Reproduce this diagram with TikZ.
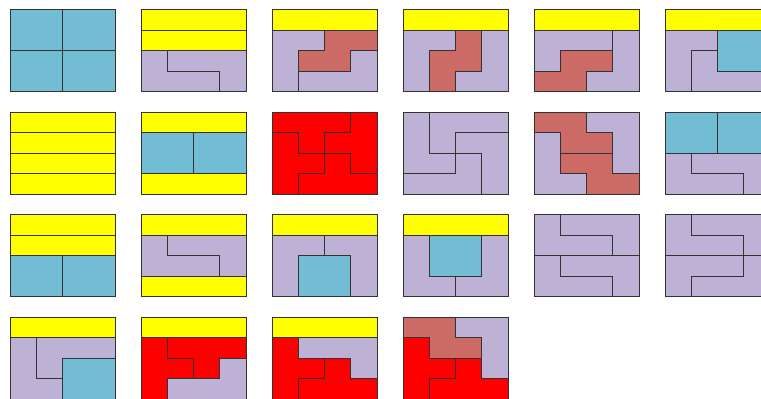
\documentclass[tikz,border=0pt]{standalone}
\usepackage{tikz}
\usetikzlibrary{calc}

\definecolor{iyellow}{HTML}{FFFF00}
\definecolor{oblue}{HTML}{72BDD3}
\definecolor{lpurple}{HTML}{BDB1D5}
\definecolor{zsalmon}{HTML}{CC6B66}
\definecolor{tred}{HTML}{FF0000}
\definecolor{edgegray}{HTML}{333333}

\tikzset{
    piece/.style={draw=edgegray, line width=0.85pt, line join=miter},
    ipiece/.style={piece, fill=iyellow},
    opiece/.style={piece, fill=oblue},
    lpiece/.style={piece, fill=lpurple},
    zpiece/.style={piece, fill=zsalmon},
    tpiece/.style={piece, fill=tred},
    tile/.style 2 args={shift={({10+131*#1},{10+102.4*#2})}, xscale=26.25, yscale=20.5}
}

% helpers in cell units (x right, y down)
\newcommand{\ibar}[1]{\draw[ipiece] (0,#1) rectangle (4,#1+1);}
\newcommand{\obox}[2]{\draw[opiece] (#1,#2) rectangle (#1+2,#2+2);}
\newcommand{\lpair}[1]{%
    \draw[lpiece] (0,#1) -- (1,#1) -- (1,#1+1) -- (3,#1+1) -- (3,#1+2) -- (0,#1+2) -- cycle;
    \draw[lpiece] (1,#1) -- (4,#1) -- (4,#1+2) -- (3,#1+2) -- (3,#1+1) -- (1,#1+1) -- cycle;}

\begin{document}
\begin{tikzpicture}[x=0.03cm, y=-0.03cm]
    \clip (0,0) rectangle (761,399);
    \fill[white] (0,0) rectangle (761,399);

    % Row 1
    \begin{scope}[tile={0}{0}]
        \obox{0}{0} \obox{2}{0} \obox{0}{2} \obox{2}{2}
    \end{scope}
    \begin{scope}[tile={1}{0}]
        \ibar{0} \ibar{1} \lpair{2}
    \end{scope}
    \begin{scope}[tile={2}{0}]
        \ibar{0}
        \draw[zpiece] (2,1) -- (4,1) -- (4,2) -- (3,2) -- (3,3) -- (1,3) -- (1,2) -- (2,2) -- cycle;
        \draw[lpiece] (0,1) -- (2,1) -- (2,2) -- (1,2) -- (1,4) -- (0,4) -- cycle;
        \draw[lpiece] (3,2) -- (4,2) -- (4,4) -- (1,4) -- (1,3) -- (3,3) -- cycle;
    \end{scope}
    \begin{scope}[tile={3}{0}]
        \ibar{0}
        \draw[zpiece] (2,1) -- (3,1) -- (3,3) -- (2,3) -- (2,4) -- (1,4) -- (1,2) -- (2,2) -- cycle;
        \draw[lpiece] (0,1) -- (2,1) -- (2,2) -- (1,2) -- (1,4) -- (0,4) -- cycle;
        \draw[lpiece] (3,1) -- (4,1) -- (4,4) -- (2,4) -- (2,3) -- (3,3) -- cycle;
    \end{scope}
    \begin{scope}[tile={4}{0}]
        \ibar{0}
        \draw[zpiece] (1,2) -- (3,2) -- (3,3) -- (2,3) -- (2,4) -- (0,4) -- (0,3) -- (1,3) -- cycle;
        \draw[lpiece] (0,1) -- (3,1) -- (3,2) -- (1,2) -- (1,3) -- (0,3) -- cycle;
        \draw[lpiece] (3,1) -- (4,1) -- (4,4) -- (2,4) -- (2,3) -- (3,3) -- cycle;
    \end{scope}
    \begin{scope}[tile={5}{0}]
        \ibar{0} \obox{2}{1}
        \draw[lpiece] (0,1) -- (2,1) -- (2,2) -- (1,2) -- (1,4) -- (0,4) -- cycle;
        \draw[lpiece] (1,2) -- (2,2) -- (2,3) -- (4,3) -- (4,4) -- (1,4) -- cycle;
    \end{scope}

    % Row 2
    \begin{scope}[tile={0}{1}]
        \foreach \r in {0,...,3} { \ibar{\r} }
    \end{scope}
    \begin{scope}[tile={1}{1}]
        \ibar{0} \obox{0}{1} \obox{2}{1} \ibar{3}
    \end{scope}
    \begin{scope}[tile={2}{1}]
        \draw[tpiece] (0,0) -- (3,0) -- (3,1) -- (2,1) -- (2,2) -- (1,2) -- (1,1) -- (0,1) -- cycle;
        \draw[tpiece] (3,0) -- (4,0) -- (4,3) -- (3,3) -- (3,2) -- (2,2) -- (2,1) -- (3,1) -- cycle;
        \draw[tpiece] (0,1) -- (1,1) -- (1,2) -- (2,2) -- (2,3) -- (1,3) -- (1,4) -- (0,4) -- cycle;
        \draw[tpiece] (2,2) -- (3,2) -- (3,3) -- (4,3) -- (4,4) -- (1,4) -- (1,3) -- (2,3) -- cycle;
    \end{scope}
    \begin{scope}[tile={3}{1}]
        \draw[lpiece] (0,0) -- (1,0) -- (1,2) -- (2,2) -- (2,3) -- (0,3) -- cycle;
        \draw[lpiece] (1,0) -- (4,0) -- (4,1) -- (2,1) -- (2,2) -- (1,2) -- cycle;
        \draw[lpiece] (2,1) -- (4,1) -- (4,4) -- (3,4) -- (3,2) -- (2,2) -- cycle;
        \draw[lpiece] (2,2) -- (3,2) -- (3,4) -- (0,4) -- (0,3) -- (2,3) -- cycle;
    \end{scope}
    \begin{scope}[tile={4}{1}]
        \draw[zpiece] (0,0) -- (2,0) -- (2,1) -- (3,1) -- (3,2) -- (1,2) -- (1,1) -- (0,1) -- cycle;
        \draw[zpiece] (1,2) -- (3,2) -- (3,3) -- (4,3) -- (4,4) -- (2,4) -- (2,3) -- (1,3) -- cycle;
        \draw[lpiece] (2,0) -- (4,0) -- (4,3) -- (3,3) -- (3,1) -- (2,1) -- cycle;
        \draw[lpiece] (0,1) -- (1,1) -- (1,3) -- (2,3) -- (2,4) -- (0,4) -- cycle;
    \end{scope}
    \begin{scope}[tile={5}{1}]
        \obox{0}{0} \obox{2}{0} \lpair{2}
    \end{scope}

    % Row 3
    \begin{scope}[tile={0}{2}]
        \ibar{0} \ibar{1} \obox{0}{2} \obox{2}{2}
    \end{scope}
    \begin{scope}[tile={1}{2}]
        \ibar{0} \lpair{1} \ibar{3}
    \end{scope}
    \begin{scope}[tile={2}{2}]
        \ibar{0}
        \draw[lpiece] (0,1) -- (2,1) -- (2,2) -- (1,2) -- (1,4) -- (0,4) -- cycle;
        \draw[lpiece] (2,1) -- (4,1) -- (4,4) -- (3,4) -- (3,2) -- (2,2) -- cycle;
        \obox{1}{2}
    \end{scope}
    \begin{scope}[tile={3}{2}]
        \ibar{0} \obox{1}{1}
        \draw[lpiece] (0,1) -- (1,1) -- (1,3) -- (2,3) -- (2,4) -- (0,4) -- cycle;
        \draw[lpiece] (3,1) -- (4,1) -- (4,4) -- (2,4) -- (2,3) -- (3,3) -- cycle;
    \end{scope}
    \begin{scope}[tile={4}{2}]
        \lpair{0} \lpair{2}
    \end{scope}
    \begin{scope}[tile={5}{2}]
        \lpair{0}
        \draw[lpiece] (0,2) -- (3,2) -- (3,3) -- (1,3) -- (1,4) -- (0,4) -- cycle;
        \draw[lpiece] (3,2) -- (4,2) -- (4,4) -- (1,4) -- (1,3) -- (3,3) -- cycle;
    \end{scope}

    % Row 4
    \begin{scope}[tile={0}{3}]
        \ibar{0}
        \draw[lpiece] (0,1) -- (1,1) -- (1,3) -- (2,3) -- (2,4) -- (0,4) -- cycle;
        \draw[lpiece] (1,1) -- (4,1) -- (4,2) -- (2,2) -- (2,3) -- (1,3) -- cycle;
        \obox{2}{2}
    \end{scope}
    \begin{scope}[tile={1}{3}]
        \ibar{0}
        \draw[tpiece] (0,1) -- (1,1) -- (1,2) -- (2,2) -- (2,3) -- (1,3) -- (1,4) -- (0,4) -- cycle;
        \draw[tpiece] (1,1) -- (4,1) -- (4,2) -- (3,2) -- (3,3) -- (2,3) -- (2,2) -- (1,2) -- cycle;
        \draw[lpiece] (3,2) -- (4,2) -- (4,4) -- (1,4) -- (1,3) -- (3,3) -- cycle;
    \end{scope}
    \begin{scope}[tile={2}{3}]
        \ibar{0}
        \draw[lpiece] (1,1) -- (4,1) -- (4,3) -- (3,3) -- (3,2) -- (1,2) -- cycle;
        \draw[tpiece] (0,1) -- (1,1) -- (1,2) -- (2,2) -- (2,3) -- (1,3) -- (1,4) -- (0,4) -- cycle;
        \draw[tpiece] (2,2) -- (3,2) -- (3,3) -- (4,3) -- (4,4) -- (1,4) -- (1,3) -- (2,3) -- cycle;
    \end{scope}
    \begin{scope}[tile={3}{3}]
        \draw[zpiece] (0,0) -- (2,0) -- (2,1) -- (3,1) -- (3,2) -- (1,2) -- (1,1) -- (0,1) -- cycle;
        \draw[lpiece] (2,0) -- (4,0) -- (4,3) -- (3,3) -- (3,1) -- (2,1) -- cycle;
        \draw[tpiece] (0,1) -- (1,1) -- (1,2) -- (2,2) -- (2,3) -- (1,3) -- (1,4) -- (0,4) -- cycle;
        \draw[tpiece] (2,2) -- (3,2) -- (3,3) -- (4,3) -- (4,4) -- (1,4) -- (1,3) -- (2,3) -- cycle;
    \end{scope}
\end{tikzpicture}
\end{document}
